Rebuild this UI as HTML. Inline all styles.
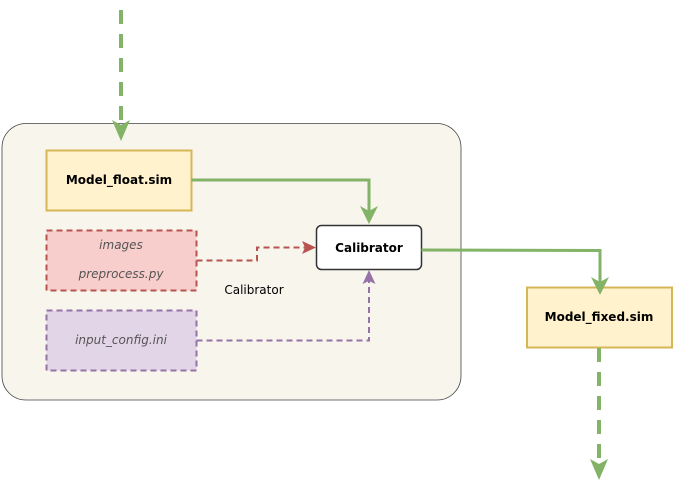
<!DOCTYPE html>
<html><head><style>body{margin:0;background:#fff}svg{display:block}</style></head><body>
<svg width="676" height="494" viewBox="0 0 676 494" xmlns="http://www.w3.org/2000/svg" font-family="'DejaVu Sans','Liberation Sans',sans-serif">
<rect x="2" y="123.5" width="459" height="276.5" rx="24" fill="#f8f5ed" stroke="#444" stroke-width="0.8"/>
<line x1="121" y1="10" x2="121" y2="128" stroke="#82b366" stroke-width="4" stroke-dasharray="14,10"/>
<polygon points="112,120 121,141 130,120 121,125" fill="#82b366"/>
<rect x="46.5" y="150.5" width="145" height="60" fill="#fff2cc" stroke="#d6b656" stroke-width="2"/>
<text x="119" y="184" font-size="12" font-weight="bold" text-anchor="middle">Model_float.sim</text>
<rect x="46.5" y="230.5" width="150" height="60" fill="#f8cecc" stroke="#b85450" stroke-width="2" stroke-dasharray="6,4"/>
<text x="121" y="249" font-size="12" font-style="italic" fill="#555" text-anchor="middle">images</text>
<text x="121" y="278" font-size="12" font-style="italic" fill="#555" text-anchor="middle">preprocess.py</text>
<rect x="46.5" y="310.5" width="150" height="60" fill="#e1d5e7" stroke="#9673a6" stroke-width="2" stroke-dasharray="6,4"/>
<text x="121" y="344" font-size="12" font-style="italic" fill="#555" text-anchor="middle">input_config.ini</text>
<rect x="316.5" y="225.5" width="105" height="44" rx="5" fill="#fff" stroke="#333" stroke-width="1.5"/>
<text x="369" y="252" font-size="12" font-weight="bold" text-anchor="middle">Calibrator</text>
<text x="254" y="294" font-size="12" text-anchor="middle">Calibrator</text>
<rect x="527" y="287.5" width="145" height="60" fill="#fff2cc" stroke="#d6b656" stroke-width="2"/>
<text x="599" y="321" font-size="12" font-weight="bold" text-anchor="middle">Model_fixed.sim</text>
<polyline points="191.5,180 369,180 369,214" fill="none" stroke="#82b366" stroke-width="3"/>
<polygon points="360,206 369,224 378,206 369,211" fill="#82b366"/>
<polyline points="196.5,260.5 257,260.5 257,247.5 306,247.5" fill="none" stroke="#b85450" stroke-width="2" stroke-dasharray="6,4"/>
<polygon points="302,241 316,247.5 302,254 305,247.5" fill="#b85450"/>
<polyline points="196.5,340.5 369,340.5 369,280" fill="none" stroke="#9673a6" stroke-width="2" stroke-dasharray="6,4"/>
<polygon points="362.5,284 369,270 375.5,284 369,281" fill="#9673a6"/>
<polyline points="421.5,250 600,250.5 600,284" fill="none" stroke="#82b366" stroke-width="3"/>
<polygon points="591,277 600,295 609,277 600,282" fill="#82b366"/>
<line x1="599" y1="348" x2="599" y2="466" stroke="#82b366" stroke-width="4" stroke-dasharray="14,10"/>
<polygon points="590,459 599,480 608,459 599,464" fill="#82b366"/>
</svg>
</body></html>
